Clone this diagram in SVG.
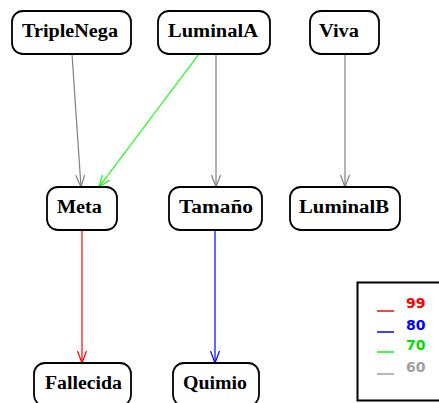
<svg xmlns="http://www.w3.org/2000/svg" width="439" height="403" viewBox="0 0 439 403">
<style>
.box{fill:#fff;stroke:#000;stroke-width:1.8}
.lbl{font-family:"Liberation Serif","Times New Roman",serif;font-weight:bold;font-size:18px;fill:#000}
.leg{font-family:"DejaVu Sans","Liberation Sans",sans-serif;font-weight:bold;font-size:14px}
.e{fill:none;stroke-width:1.2}
</style>
<defs>
<marker id="ag" viewBox="0 0 12 12" refX="12" refY="6" markerWidth="12" markerHeight="12" markerUnits="userSpaceOnUse" orient="auto"><path d="M0,1.5 L12,6 L0,10.5" fill="none" stroke="#808080" stroke-width="1.2"/></marker>
<marker id="agr" viewBox="0 0 12 12" refX="12" refY="6" markerWidth="12" markerHeight="12" markerUnits="userSpaceOnUse" orient="auto"><path d="M0,1.5 L12,6 L0,10.5" fill="none" stroke="#00ff00" stroke-width="1.2"/></marker>
<marker id="ar" viewBox="0 0 12 12" refX="12" refY="6" markerWidth="12" markerHeight="12" markerUnits="userSpaceOnUse" orient="auto"><path d="M0,1.5 L12,6 L0,10.5" fill="none" stroke="#ff0000" stroke-width="1.2"/></marker>
<marker id="ab" viewBox="0 0 12 12" refX="12" refY="6" markerWidth="12" markerHeight="12" markerUnits="userSpaceOnUse" orient="auto"><path d="M0,1.5 L12,6 L0,10.5" fill="none" stroke="#0000ff" stroke-width="1.2"/></marker>
</defs>
<rect width="439" height="403" fill="#fff"/>
<g id="edges">
<line class="e" x1="72" y1="54" x2="81" y2="187" stroke="#808080" marker-end="url(#ag)"/>
<line class="e" x1="199" y1="54" x2="99" y2="187" stroke="#00ff00" marker-end="url(#agr)"/>
<line class="e" x1="216" y1="54" x2="216" y2="187" stroke="#808080" marker-end="url(#ag)"/>
<line class="e" x1="345" y1="54" x2="345" y2="187" stroke="#808080" marker-end="url(#ag)"/>
<line class="e" x1="82" y1="230" x2="82" y2="363" stroke="#ff0000" marker-end="url(#ar)"/>
<line class="e" x1="215" y1="230" x2="215" y2="363" stroke="#0000ff" marker-end="url(#ab)"/>
</g>
<g id="TripleNega"><rect class="box" x="12" y="11" width="119" height="43" rx="11"/><text class="lbl" x="70" y="37" text-anchor="middle" textLength="96" lengthAdjust="spacingAndGlyphs">TripleNega</text></g>
<g id="LuminalA"><rect class="box" x="158" y="11" width="112" height="43" rx="11"/><text class="lbl" x="213" y="37" text-anchor="middle" textLength="90" lengthAdjust="spacingAndGlyphs">LuminalA</text></g>
<g id="Viva"><rect class="box" x="310" y="11" width="69" height="43" rx="11"/><text class="lbl" x="339" y="37" text-anchor="middle" textLength="40" lengthAdjust="spacingAndGlyphs">Viva</text></g>
<g id="Meta"><rect class="box" x="47" y="187" width="70" height="43" rx="11"/><text class="lbl" x="79.5" y="213" text-anchor="middle" textLength="45" lengthAdjust="spacingAndGlyphs">Meta</text></g>
<g id="Tamano"><rect class="box" x="169" y="187" width="93" height="43" rx="11"/><text class="lbl" x="216" y="213" text-anchor="middle" textLength="74" lengthAdjust="spacingAndGlyphs">Tamaño</text></g>
<g id="LuminalB"><rect class="box" x="290" y="187" width="110" height="43" rx="11"/><text class="lbl" x="344" y="213" text-anchor="middle" textLength="90" lengthAdjust="spacingAndGlyphs">LuminalB</text></g>
<g id="Fallecida"><rect class="box" x="34" y="363" width="97" height="43" rx="11"/><text class="lbl" x="83.5" y="389" text-anchor="middle" textLength="77" lengthAdjust="spacingAndGlyphs">Fallecida</text></g>
<g id="Quimio"><rect class="box" x="173" y="363" width="86" height="43" rx="11"/><text class="lbl" x="215" y="389" text-anchor="middle" textLength="64" lengthAdjust="spacingAndGlyphs">Quimio</text></g>
<g id="legend">
<rect x="357.5" y="282.5" width="90" height="118" fill="#fff" stroke="#000" stroke-width="2"/>
<line x1="377" y1="311" x2="394" y2="311" stroke="#ff0000" stroke-width="1.5"/>
<line x1="377" y1="332" x2="394" y2="332" stroke="#0000ff" stroke-width="1.5"/>
<line x1="377" y1="352" x2="394" y2="352" stroke="#00ff00" stroke-width="1.5"/>
<line x1="377" y1="374" x2="394" y2="374" stroke="#a0a0a0" stroke-width="1.5"/>
<text class="leg" x="406" y="308" fill="#ff0000">99</text>
<text class="leg" x="406" y="330" fill="#0000ff">80</text>
<text class="leg" x="406" y="350" fill="#00dd00">70</text>
<text class="leg" x="406" y="372" fill="#a0a0a0">60</text>
</g>
</svg>
